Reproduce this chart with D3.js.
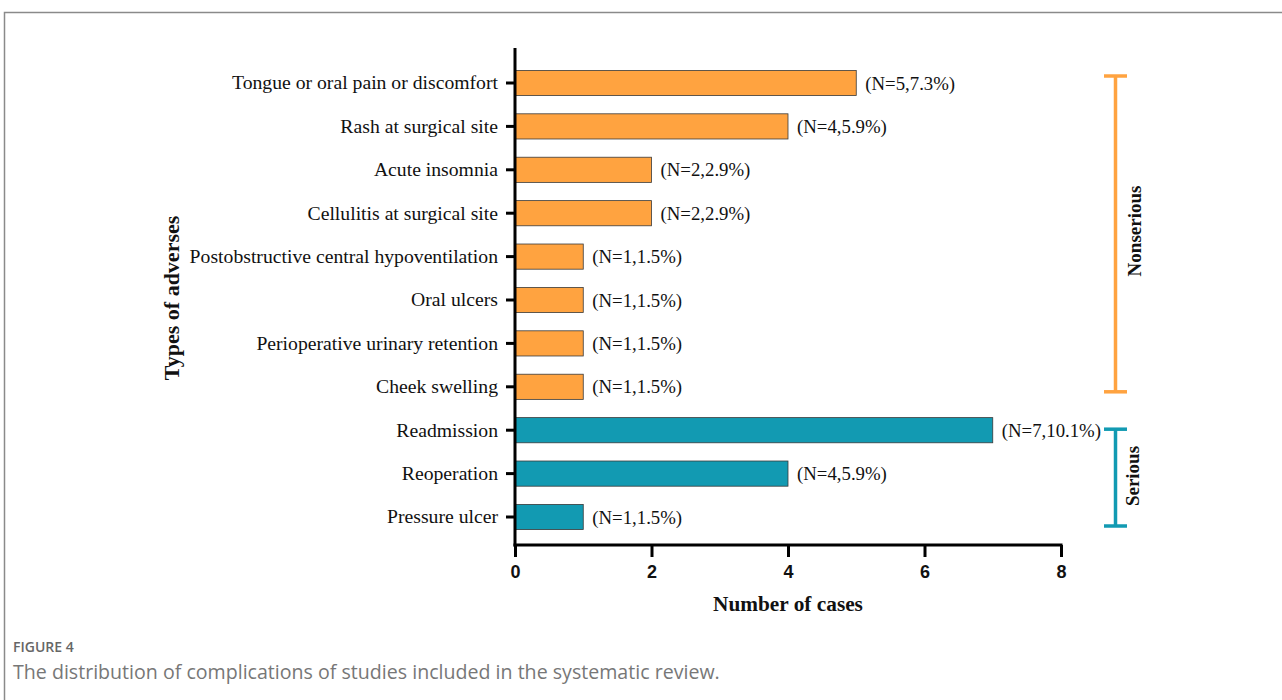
<!DOCTYPE html>
<html><head><meta charset="utf-8">
<script src="https://cdn.jsdelivr.net/npm/d3@7"></script>
<style>body{margin:0;background:#fff;}svg{display:block;}</style>
</head><body>
<svg id="c" width="1282" height="700"></svg>
<script>
const categories = ["Tongue or oral pain or discomfort","Rash at surgical site","Acute insomnia","Cellulitis at surgical site","Postobstructive central hypoventilation","Oral ulcers","Perioperative urinary retention","Cheek swelling","Readmission","Reoperation","Pressure ulcer"];
const values = [5,4,2,2,1,1,1,1,7,4,1];
const valueLabels = ["(N=5,7.3%)","(N=4,5.9%)","(N=2,2.9%)","(N=2,2.9%)","(N=1,1.5%)","(N=1,1.5%)","(N=1,1.5%)","(N=1,1.5%)","(N=7,10.1%)","(N=4,5.9%)","(N=1,1.5%)"];
const groups = ["Nonserious","Nonserious","Nonserious","Nonserious","Nonserious","Nonserious","Nonserious","Nonserious","Serious","Serious","Serious"];
const xTicks = [0,2,4,6,8];
const groupNames = ["Nonserious","Serious"];
const groupColors = {"Nonserious":"#FFA340","Serious":"#129AB2"};

const svg = d3.select("#c");
const serif = "'Liberation Serif','Times New Roman',serif";
const sans = "'Liberation Sans',Arial,sans-serif";

// frame
svg.append("path").attr("d","M4.5,700 L4.5,12.5 L1282,12.5").attr("fill","none").attr("stroke","#8a8a8a").attr("stroke-width",1.5);

const x = d3.scaleLinear().domain([0,8]).range([515,1061]);
const y = d3.scaleBand().domain(categories).range([61.3,538.7]).paddingInner(0.42).paddingOuter(0.21);

const g = svg.append("g");
// bars
g.selectAll("rect.bar").data(categories).enter().append("rect")
  .attr("x", x(0)).attr("y", d=>y(d))
  .attr("width", (d,i)=>x(values[i])-x(0))
  .attr("height", y.bandwidth())
  .attr("fill",(d,i)=>groupColors[groups[i]])
  .attr("stroke","#3a3a3a").attr("stroke-width",0.8);

// value labels
g.selectAll("text.vl").data(categories).enter().append("text")
  .attr("x",(d,i)=>x(values[i])+9).attr("y",d=>y(d)+y.bandwidth()/2)
  .attr("dy","0.35em").attr("font-family",serif).attr("font-size",18.8).attr("fill","#111")
  .text((d,i)=>valueLabels[i]);

// y axis
const yAxis = d3.axisLeft(y).tickSize(9).tickPadding(8);
const ya = g.append("g").attr("transform","translate(515,0)").call(yAxis);
ya.select(".domain").remove();
ya.selectAll(".tick line").attr("stroke","#000").attr("stroke-width",3);
ya.selectAll(".tick text").attr("font-family",serif).attr("font-size",19.7).attr("fill","#111");
g.append("line").attr("x1",515).attr("x2",515).attr("y1",48).attr("y2",546.5).attr("stroke","#000").attr("stroke-width",3);

// x axis
const xAxis = d3.axisBottom(x).tickValues(xTicks).tickSize(12).tickPadding(8).tickFormat(d3.format("d"));
const xa = g.append("g").attr("transform","translate(0,545)").call(xAxis);
xa.select(".domain").remove();
xa.selectAll(".tick line").attr("stroke","#000").attr("stroke-width",3);
xa.selectAll(".tick text").attr("font-family",sans).attr("font-weight","bold").attr("font-size",18).attr("fill","#111");
g.append("line").attr("x1",513.5).attr("x2",1062.5).attr("y1",545).attr("y2",545).attr("stroke","#000").attr("stroke-width",3);

// axis titles
svg.append("text").attr("x",788).attr("y",611).attr("text-anchor","middle")
  .attr("font-family",serif).attr("font-weight","bold").attr("font-size",21.3).attr("fill","#111").text("Number of cases");
svg.append("text").attr("transform","translate(179,298) rotate(-90)").attr("text-anchor","middle")
  .attr("font-family",serif).attr("font-weight","bold").attr("font-size",22).attr("fill","#111").text("Types of adverses");

// group brackets
const bracketPad = {"Nonserious":[-7,5],"Serious":[-1,9]};
const labelPos = {"Nonserious":[1141,231],"Serious":[1139,476]};
groupNames.forEach(gn=>{
  const idx = categories.filter((c,i)=>groups[i]===gn);
  const y0 = y(idx[0]) + y.bandwidth()/2 + bracketPad[gn][0];
  const y1 = y(idx[idx.length-1]) + y.bandwidth()/2 + bracketPad[gn][1];
  const col = groupColors[gn];
  const bx = 1115.5;
  svg.append("line").attr("x1",bx).attr("x2",bx).attr("y1",y0).attr("y2",y1).attr("stroke",col).attr("stroke-width",3.5);
  svg.append("line").attr("x1",1104).attr("x2",1127).attr("y1",y0).attr("y2",y0).attr("stroke",col).attr("stroke-width",3.5);
  svg.append("line").attr("x1",1104).attr("x2",1127).attr("y1",y1).attr("y2",y1).attr("stroke",col).attr("stroke-width",3.5);
  const [cx,cy] = labelPos[gn];
  svg.append("text").attr("transform",`translate(${cx},${cy}) rotate(-90)`).attr("text-anchor","middle")
    .attr("font-family",serif).attr("font-weight","bold").attr("font-size",19).attr("fill","#111").text(gn);
});

// caption
svg.append("text").attr("x",13).attr("y",652).attr("font-family","'Open Sans',sans-serif").attr("font-size",14).attr("font-weight",600).attr("fill","#666").text("FIGURE 4");
svg.append("text").attr("x",13).attr("y",679).attr("font-family","'Open Sans',sans-serif").attr("font-size",19.6).attr("fill","#777").text("The distribution of complications of studies included in the systematic review.");
</script>
</body></html>
